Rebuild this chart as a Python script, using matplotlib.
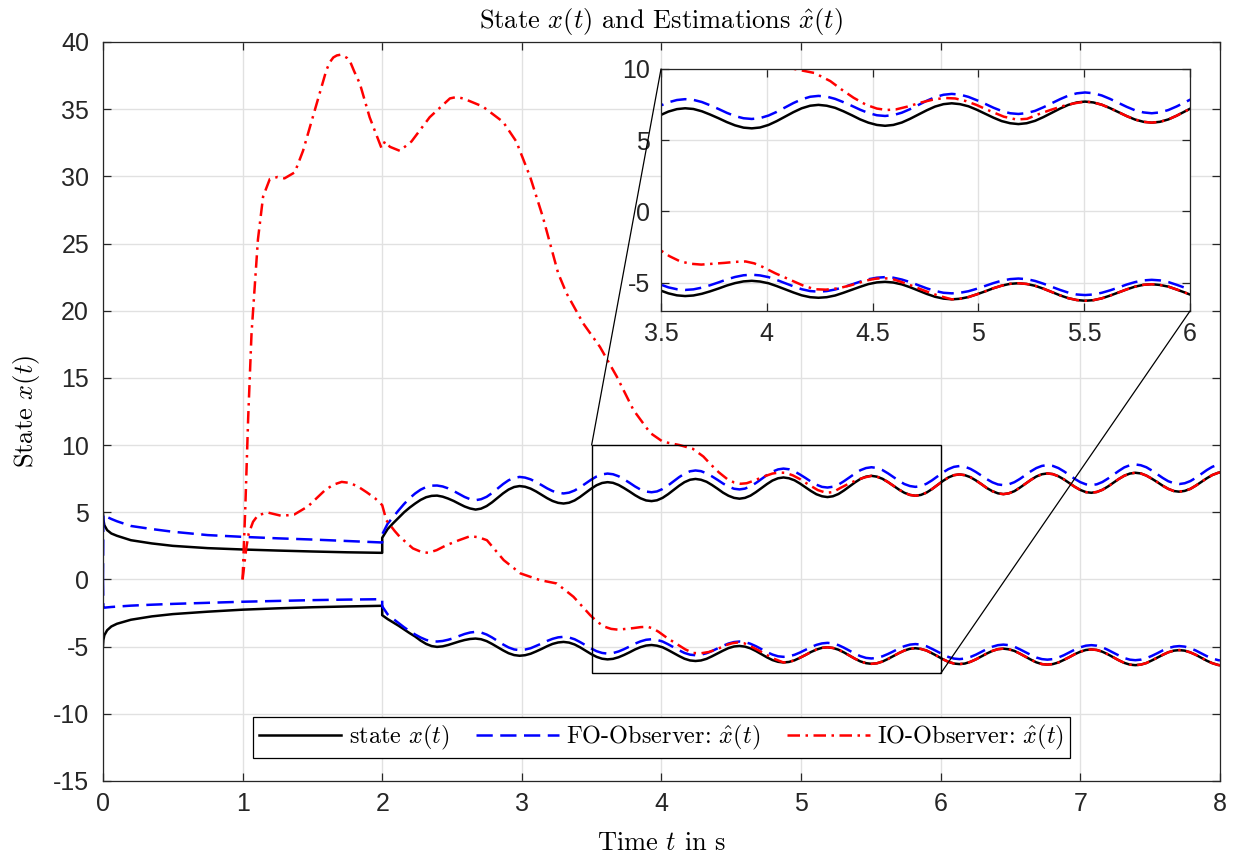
import matplotlib
matplotlib.use('Agg')
from matplotlib import pyplot as plt
from matplotlib.patches import Rectangle, ConnectionPatch
from matplotlib.lines import Line2D
from matplotlib.ticker import FormatStrFormatter

plt.rcParams['mathtext.fontset'] = 'cm'
plt.rcParams['axes.unicode_minus'] = False
plt.rcParams['font.family'] = ['Liberation Sans', 'DejaVu Sans']

# --- data ---
# 0 <= t <= 2: decaying part
t_early = [0.0, 0.003, 0.01, 0.03, 0.06, 0.1, 0.2, 0.35, 0.5, 0.75, 1.0, 1.25, 1.5, 1.75, 2.0]
state_up_early = [4.95, 4.45, 4.04, 3.67, 3.42, 3.25, 2.92, 2.68, 2.50, 2.33, 2.23, 2.15, 2.08, 2.02, 1.98]
state_lo_early = [-4.95, -4.50, -4.15, -3.78, -3.50, -3.30, -3.00, -2.75, -2.58, -2.40, -2.25, -2.15, -2.07, -2.01, -1.96]
fo_up_early = [0.0, 4.85, 4.75, 4.65, 4.50, 4.33, 3.98, 3.75, 3.55, 3.30, 3.17, 3.06, 2.97, 2.86, 2.75]
fo_lo_early = [0.0, -2.10, -2.10, -2.08, -2.05, -2.02, -1.95, -1.88, -1.82, -1.74, -1.66, -1.60, -1.54, -1.50, -1.47]

# 2 <= t <= 8: oscillating part
t_osc = [2.0, 2.039, 2.078, 2.118, 2.157, 2.197, 2.236, 2.275, 2.315,
         2.354, 2.393, 2.433, 2.472, 2.512, 2.551, 2.590, 2.630,
         2.669, 2.708, 2.748, 2.787, 2.827, 2.866, 2.905, 2.945,
         2.984, 3.023, 3.063, 3.102, 3.142, 3.181, 3.220, 3.260,
         3.299, 3.338, 3.378, 3.417, 3.457, 3.496, 3.535, 3.575,
         3.614, 3.653, 3.693, 3.732, 3.772, 3.811, 3.850, 3.890,
         3.929, 3.968, 4.008, 4.047, 4.087, 4.126, 4.165, 4.205,
         4.244, 4.283, 4.323, 4.362, 4.402, 4.441, 4.480, 4.520,
         4.559, 4.598, 4.638, 4.677, 4.717, 4.756, 4.795, 4.835,
         4.874, 4.913, 4.953, 4.992, 5.032, 5.071, 5.110, 5.150,
         5.189, 5.228, 5.268, 5.307, 5.347, 5.386, 5.425, 5.465,
         5.504, 5.543, 5.583, 5.622, 5.662, 5.701, 5.740, 5.780,
         5.819, 5.858, 5.898, 5.937, 5.977, 6.016, 6.055, 6.095,
         6.134, 6.173, 6.213, 6.252, 6.292, 6.331, 6.370, 6.410,
         6.449, 6.488, 6.528, 6.567, 6.607, 6.646, 6.685, 6.725,
         6.764, 6.803, 6.843, 6.882, 6.922, 6.961, 7.000, 7.040,
         7.079, 7.118, 7.158, 7.197, 7.237, 7.276, 7.315, 7.355,
         7.394, 7.433, 7.473, 7.512, 7.552, 7.591, 7.630, 7.670,
         7.709, 7.748, 7.788, 7.827, 7.867, 7.906, 7.945, 7.985,
         8.0]
state_up_osc = [3.10, 3.75, 4.18, 4.60, 5.00, 5.35, 5.65, 5.92, 6.12,
                6.22, 6.24, 6.16, 6.02, 5.84, 5.63, 5.43, 5.28,
                5.20, 5.27, 5.46, 5.74, 6.08, 6.41, 6.69, 6.88,
                6.95, 6.90, 6.76, 6.55, 6.30, 6.05, 5.84, 5.70,
                5.65, 5.71, 5.88, 6.14, 6.45, 6.75, 7.01, 7.18,
                7.24, 7.19, 7.03, 6.80, 6.54, 6.27, 6.04, 5.88,
                5.83, 5.89, 6.07, 6.34, 6.66, 6.97, 7.24, 7.42,
                7.48, 7.42, 7.27, 7.03, 6.75, 6.46, 6.23, 6.07,
                6.01, 6.07, 6.24, 6.50, 6.80, 7.10, 7.36, 7.53,
                7.59, 7.53, 7.38, 7.14, 6.86, 6.58, 6.34, 6.19,
                6.13, 6.19, 6.36, 6.62, 6.92, 7.22, 7.48, 7.65,
                7.71, 7.65, 7.49, 7.25, 6.97, 6.69, 6.45, 6.29,
                6.23, 6.29, 6.46, 6.72, 7.03, 7.33, 7.59, 7.76,
                7.82, 7.76, 7.61, 7.37, 7.09, 6.80, 6.57, 6.41,
                6.35, 6.41, 6.57, 6.83, 7.12, 7.41, 7.66, 7.83,
                7.89, 7.84, 7.68, 7.45, 7.17, 6.89, 6.66, 6.50,
                6.45, 6.51, 6.67, 6.91, 7.20, 7.48, 7.72, 7.88,
                7.94, 7.89, 7.73, 7.50, 7.24, 6.97, 6.74, 6.58,
                6.53, 6.59, 6.74, 6.98, 7.26, 7.53, 7.77, 7.93,
                7.97]
state_lo_osc = [-2.66, -2.95, -3.20, -3.45, -3.72, -4.00, -4.25, -4.55, -4.80,
                -4.96, -5.02, -4.98, -4.88, -4.75, -4.62, -4.51, -4.43,
                -4.40, -4.45, -4.59, -4.80, -5.04, -5.28, -5.49, -5.63,
                -5.68, -5.64, -5.53, -5.36, -5.17, -4.97, -4.80, -4.69,
                -4.65, -4.70, -4.84, -5.05, -5.30, -5.55, -5.76, -5.90,
                -5.95, -5.91, -5.79, -5.62, -5.42, -5.21, -5.04, -4.92,
                -4.88, -4.93, -5.05, -5.25, -5.48, -5.70, -5.90, -6.03,
                -6.07, -6.03, -5.91, -5.72, -5.51, -5.30, -5.11, -4.99,
                -4.95, -5.00, -5.13, -5.33, -5.57, -5.80, -6.00, -6.13,
                -6.18, -6.14, -6.02, -5.83, -5.62, -5.40, -5.22, -5.09,
                -5.05, -5.10, -5.23, -5.43, -5.67, -5.90, -6.10, -6.23,
                -6.28, -6.24, -6.11, -5.92, -5.70, -5.48, -5.29, -5.16,
                -5.12, -5.17, -5.29, -5.49, -5.71, -5.94, -6.13, -6.26,
                -6.30, -6.26, -6.13, -5.95, -5.73, -5.51, -5.32, -5.19,
                -5.15, -5.20, -5.32, -5.52, -5.75, -5.97, -6.17, -6.30,
                -6.34, -6.30, -6.18, -5.99, -5.78, -5.56, -5.38, -5.25,
                -5.21, -5.25, -5.38, -5.57, -5.80, -6.02, -6.21, -6.34,
                -6.38, -6.34, -6.22, -6.03, -5.82, -5.61, -5.42, -5.30,
                -5.26, -5.30, -5.43, -5.61, -5.83, -6.05, -6.23, -6.36,
                -6.39]
fo_up_osc = [3.35, 4.15, 4.65, 5.15, 5.62, 6.05, 6.40, 6.68, 6.88,
             6.98, 6.99, 6.92, 6.78, 6.58, 6.36, 6.14, 5.97,
             5.90, 5.97, 6.15, 6.43, 6.77, 7.10, 7.38, 7.56,
             7.63, 7.58, 7.45, 7.25, 7.02, 6.78, 6.58, 6.45,
             6.40, 6.46, 6.62, 6.86, 7.14, 7.42, 7.66, 7.82,
             7.88, 7.83, 7.68, 7.45, 7.19, 6.92, 6.69, 6.54,
             6.49, 6.55, 6.73, 6.99, 7.30, 7.61, 7.87, 8.05,
             8.11, 8.06, 7.90, 7.67, 7.41, 7.14, 6.91, 6.75,
             6.70, 6.76, 6.93, 7.18, 7.48, 7.77, 8.02, 8.19,
             8.25, 8.20, 8.04, 7.81, 7.55, 7.28, 7.05, 6.89,
             6.84, 6.90, 7.06, 7.31, 7.60, 7.88, 8.13, 8.29,
             8.35, 8.30, 8.14, 7.90, 7.62, 7.34, 7.10, 6.95,
             6.89, 6.95, 7.12, 7.37, 7.67, 7.96, 8.21, 8.38,
             8.44, 8.39, 8.23, 8.00, 7.73, 7.46, 7.23, 7.07,
             7.02, 7.08, 7.24, 7.48, 7.77, 8.05, 8.29, 8.45,
             8.51, 8.45, 8.29, 8.05, 7.77, 7.48, 7.24, 7.08,
             7.02, 7.08, 7.25, 7.50, 7.79, 8.08, 8.34, 8.50,
             8.56, 8.50, 8.35, 8.11, 7.83, 7.55, 7.31, 7.16,
             7.10, 7.16, 7.32, 7.56, 7.85, 8.14, 8.38, 8.54,
             8.58]
fo_lo_osc = [-2.00, -2.60, -2.93, -3.25, -3.56, -3.85, -4.10, -4.32, -4.50,
             -4.60, -4.62, -4.58, -4.49, -4.37, -4.21, -4.06, -3.95,
             -3.90, -3.95, -4.10, -4.32, -4.58, -4.84, -5.06, -5.21,
             -5.26, -5.22, -5.12, -4.95, -4.77, -4.58, -4.42, -4.31,
             -4.27, -4.32, -4.45, -4.66, -4.90, -5.13, -5.34, -5.47,
             -5.52, -5.48, -5.36, -5.19, -4.99, -4.78, -4.61, -4.49,
             -4.45, -4.50, -4.62, -4.82, -5.05, -5.27, -5.47, -5.60,
             -5.64, -5.60, -5.49, -5.33, -5.13, -4.94, -4.77, -4.66,
             -4.62, -4.66, -4.79, -4.97, -5.19, -5.41, -5.59, -5.72,
             -5.76, -5.72, -5.61, -5.44, -5.24, -5.04, -4.87, -4.76,
             -4.72, -4.76, -4.89, -5.08, -5.30, -5.52, -5.71, -5.84,
             -5.88, -5.84, -5.72, -5.55, -5.35, -5.14, -4.97, -4.85,
             -4.81, -4.85, -4.97, -5.16, -5.37, -5.58, -5.77, -5.89,
             -5.93, -5.89, -5.77, -5.60, -5.39, -5.18, -5.01, -4.89,
             -4.85, -4.89, -5.01, -5.20, -5.41, -5.62, -5.81, -5.93,
             -5.97, -5.93, -5.81, -5.64, -5.43, -5.22, -5.05, -4.93,
             -4.89, -4.93, -5.05, -5.24, -5.45, -5.66, -5.85, -5.97,
             -6.01, -5.97, -5.86, -5.69, -5.49, -5.28, -5.11, -5.00,
             -4.96, -5.00, -5.12, -5.29, -5.50, -5.71, -5.88, -6.00,
             -6.03]

# IO observer: starts at t = 1, later runs onto the state
t_io_up = [1.0, 1.02, 1.04, 1.064, 1.087, 1.11, 1.147, 1.195, 1.25, 1.30,
           1.374, 1.433, 1.53, 1.60, 1.625, 1.65, 1.675, 1.70, 1.725, 1.75,
           1.768, 1.80, 1.84, 1.91, 1.995, 2.02, 2.055, 2.126, 2.21, 2.34,
           2.485, 2.53, 2.58, 2.72, 2.866, 2.96, 3.06, 3.15, 3.26, 3.32,
           3.44, 3.56, 3.68, 3.80, 3.92, 4.01, 4.13, 4.225, 4.30, 4.355,
           4.41, 4.47, 4.52, 4.567, 4.61, 4.665, 4.73, 4.795, 4.845, 4.89,
           4.94, 4.99, 5.05, 5.12, 5.18, 5.23, 5.28, 5.34, 5.40, 5.45]
io_up = [0.0, 5.5, 12.0, 18.3, 21.8, 25.3, 28.5, 29.8, 29.95, 29.85,
         30.3, 31.9, 35.4, 37.9, 38.5, 38.85, 39.0, 39.05, 38.95, 38.8,
         38.6, 37.8, 36.9, 34.4, 32.1, 32.6, 32.2, 31.9, 32.6, 34.4,
         35.8, 35.9, 35.8, 35.2, 34.05, 32.6, 29.95, 27.0, 22.8, 21.3,
         19.05, 17.3, 15.1, 12.6, 10.9, 10.25, 10.0, 9.72, 9.15, 8.54,
         7.98, 7.48, 7.22, 7.12, 7.16, 7.36, 7.65, 7.88, 7.96, 7.93,
         7.75, 7.48, 7.08, 6.65, 6.45, 6.50, 6.80, 7.12, 7.40, 7.58]
t_io_lo = [1.0, 1.016, 1.028, 1.044, 1.075, 1.11, 1.18, 1.28, 1.37, 1.47,
           1.59, 1.65, 1.71, 1.77, 1.83, 1.89, 1.95, 2.0, 2.03, 2.09,
           2.126, 2.22, 2.28, 2.33, 2.39, 2.46, 2.55, 2.63, 2.69, 2.75,
           2.87, 2.99, 3.13, 3.25, 3.37, 3.49, 3.54, 3.59, 3.64, 3.69,
           3.80, 3.85, 3.90, 3.94, 3.98, 4.04, 4.11, 4.17, 4.225, 4.28,
           4.34, 4.40, 4.47, 4.51, 4.55, 4.59, 4.63, 4.69, 4.75, 4.81]
io_lo = [0.0, 1.43, 2.43, 3.42, 4.29, 4.78, 4.98, 4.73, 4.83, 5.45,
         6.64, 7.05, 7.26, 7.18, 6.89, 6.48, 6.03, 5.53, 4.40, 3.60,
         3.17, 2.31, 2.05, 1.98, 2.18, 2.55, 2.92, 3.22, 3.14, 2.92,
         1.44, 0.45, -0.05, -0.30, -1.29, -2.66, -3.15, -3.51, -3.68, -3.74,
         -3.62, -3.55, -3.52, -3.65, -3.90, -4.35, -4.81, -5.20, -5.47, -5.50,
         -5.40, -5.18, -4.86, -4.74, -4.69, -4.74, -4.93, -5.25, -5.60, -5.92]
io_up_join = 89   # index in t_osc where the upper IO estimate meets the state
io_lo_join = 73

t_all = t_early + t_osc
state_up = state_up_early + state_up_osc
state_lo = state_lo_early + state_lo_osc
fo_up = fo_up_early + fo_up_osc
fo_lo = fo_lo_early + fo_lo_osc
io_up_t = t_io_up + t_osc[io_up_join:]
io_up_y = io_up + state_up_osc[io_up_join:]
io_lo_t = t_io_lo + t_osc[io_lo_join:]
io_lo_y = io_lo + state_lo_osc[io_lo_join:]

axis_col = '#262626'
grid_col = '#e1e1e1'
lw = 1.8
fo_style = (0, (6.5, 3.0))
io_style = (0, (5.0, 2.2, 1.0, 2.2))
tex_font = 'cmr10'


def draw_curves(a):
    a.plot(t_all, state_up, color='k', lw=lw)
    a.plot(t_all, state_lo, color='k', lw=lw)
    a.plot(t_all, fo_up, color='b', lw=lw, linestyle=fo_style)
    a.plot(t_all, fo_lo, color='b', lw=lw, linestyle=fo_style)
    a.plot(io_up_t, io_up_y, color='r', lw=lw, linestyle=io_style)
    a.plot(io_lo_t, io_lo_y, color='r', lw=lw, linestyle=io_style)


def style_axes(a, size, pad):
    a.grid(True, color=grid_col, lw=1.0)
    a.set_axisbelow(True)
    a.tick_params(direction='in', top=True, right=True, length=6, width=0.9,
                  colors=axis_col, labelsize=size, pad=pad)
    for s in a.spines.values():
        s.set_color(axis_col)
        s.set_linewidth(0.9)


fig = plt.figure(figsize=(12.36, 8.57), dpi=100)
ax = fig.add_axes([0.0833, 0.0887, 0.9037, 0.8623])
draw_curves(ax)
style_axes(ax, 18, 8)
ax.tick_params(axis='y', pad=10)
ax.set_xlim(0, 8)
ax.set_ylim(-15, 40)
ax.set_xticks(range(0, 9))
ax.set_yticks(range(-15, 41, 5))
ax.set_title(r'State $x(t)$ and Estimations $\hat{x}(t)$', fontfamily=tex_font, fontsize=19, pad=10)
ax.set_xlabel(r'Time $t$ in s', fontfamily=tex_font, fontsize=19, labelpad=11)
ax.set_ylabel(r'State $x(t)$', fontfamily=tex_font, fontsize=19, labelpad=8)

ax.add_patch(Rectangle((3.5, -7), 2.5, 17, fill=False, ec='k', lw=1.0, zorder=6))

handles = [Line2D([], [], color='k', lw=lw),
           Line2D([], [], color='b', lw=lw, linestyle=fo_style),
           Line2D([], [], color='r', lw=lw, linestyle=io_style)]
labels = [r'state $x(t)$', r'FO-Observer: $\hat{x}(t)$', r'IO-Observer: $\hat{x}(t)$']
leg = ax.legend(handles, labels, loc='lower center', bbox_to_anchor=(0.5, 0.031), ncol=3,
                fancybox=False, framealpha=1, edgecolor='k', borderaxespad=0,
                handlelength=3.4, handletextpad=0.3, columnspacing=1.1, borderpad=0.25,
                prop={'family': tex_font, 'size': 17.5})
leg.get_frame().set_linewidth(0.9)

axins = fig.add_axes([0.5348, 0.6371, 0.428, 0.2824])
axins.set_facecolor('white')
draw_curves(axins)
style_axes(axins, 18, 8)
axins.set_xlim(3.5, 6)
axins.set_ylim(-7, 10)
axins.set_xticks([3.5, 4, 4.5, 5, 5.5, 6])
axins.set_yticks([-5, 0, 5, 10])
axins.xaxis.set_major_formatter(FormatStrFormatter('%g'))

for xa in [(3.5, 10), (6, -7)]:
    cp = ConnectionPatch(xyA=xa, coordsA='data', axesA=ax, xyB=xa, coordsB='data', axesB=axins,
                         color='k', lw=0.9)
    fig.add_artist(cp)

fig.savefig('out.png', dpi=100)
